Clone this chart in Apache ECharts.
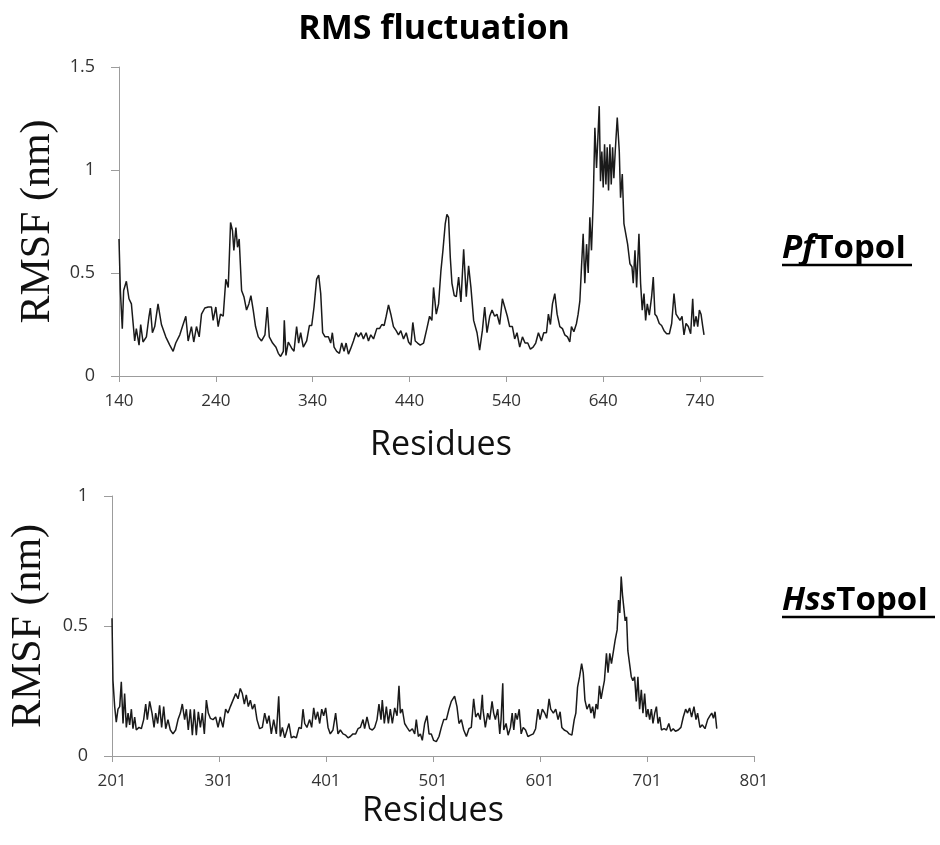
<!DOCTYPE html>
<html>
<head>
<meta charset="utf-8">
<title>RMS fluctuation</title>
<script src="https://cdn.jsdelivr.net/npm/echarts@6/dist/echarts.min.js"></script>
<style>
  html, body { margin: 0; padding: 0; background: #fff; }
  #chart { width: 940px; height: 845px; }
</style>
</head>
<body>
<div id="chart"></div>
<script>
// PfTopoI residues / RMSF (nm)
const pfResidue = [140.0,141.4,143.4,144.8,147.6,150.3,152.8,156.2,157.9,160.7,162.4,164.8,168.3,171.0,172.4,174.5,176.9,180.3,183.8,188.3,192.4,195.9,198.6,202.8,205.5,209.0,211.4,214.8,217.2,220.0,222.8,225.2,228.6,232.1,235.5,237.2,240.0,242.4,244.8,247.6,250.3,252.8,255.2,257.2,258.6,260.7,262.4,264.1,266.6,269.0,271.7,274.1,276.2,278.6,281.0,283.8,287.2,290.7,293.1,295.2,298.6,302.1,304.5,306.9,309.7,310.7,312.4,314.8,318.3,320.7,323.4,325.5,327.6,330.3,333.8,336.6,339.0,341.4,344.1,346.2,348.3,350.3,352.8,356.2,358.6,360.3,362.1,364.8,367.6,370.0,372.4,374.5,376.9,379.3,382.1,384.8,387.2,390.0,392.4,395.2,397.6,400.0,402.8,406.2,409.0,411.4,413.8,415.9,418.3,420.7,423.4,426.2,428.6,431.0,433.8,436.6,439.0,441.4,443.4,445.9,448.3,451.0,454.5,457.9,460.7,463.1,464.8,467.6,470.0,472.4,474.5,476.9,478.6,480.3,482.1,483.8,486.2,488.3,490.7,493.1,495.9,498.6,501.0,503.4,506.2,509.7,512.4,
  515.2,517.6,520.0,522.8,525.2,527.9,530.3,533.1,535.9,538.3,541.0,543.4,546.2,548.6,551.0,553.8,556.6,559.3,562.1,564.8,567.6,570.3,573.1,576.2,578.6,581.4,583.4,585.5,587.6,590.0,592.4,595.2,597.9,600.3,603.1,605.5,607.2,609.7,612.4,614.1,615.9,617.6,619.3,621.0,622.8,624.5,626.2,627.9,629.7,631.4,633.1,634.5,635.9,637.2,638.6,640.0,641.4,642.8,644.1,645.5,646.9,648.3,649.7,651.0,652.4,654.5,656.6,657.9,659.7,661.4,663.4,665.2,667.6,669.7,671.0,672.8,674.5,676.9,678.6,680.3,682.1,683.8,685.5,687.6,690.0,691.7,693.4,695.2,697.9,700.3,702.8,705.5,708.3,710.7,713.1,715.2,717.2,719.3,721.4,723.4,725.5,727.9,730.3,732.4,733.8,735.9,737.6,739.3,741.0,742.8,744.1]
const pfRmsf = [0.665,0.415,0.23,0.415,0.46,0.375,0.35,0.17,0.23,0.15,0.25,0.165,0.19,0.29,0.33,0.21,0.24,0.35,0.25,0.19,0.15,0.12,0.16,0.2,0.24,0.29,0.17,0.24,0.165,0.24,0.19,0.3,0.33,0.335,0.335,0.27,0.335,0.24,0.3,0.29,0.47,0.43,0.745,0.705,0.61,0.72,0.625,0.665,0.415,0.385,0.32,0.35,0.39,0.32,0.24,0.19,0.17,0.2,0.335,0.19,0.16,0.14,0.11,0.095,0.12,0.27,0.1,0.165,0.135,0.12,0.24,0.16,0.21,0.14,0.17,0.245,0.245,0.335,0.47,0.49,0.4,0.21,0.19,0.19,0.16,0.21,0.14,0.12,0.11,0.16,0.12,0.16,0.106,0.134,0.17,0.21,0.19,0.21,0.18,0.21,0.17,0.2,0.18,0.23,0.23,0.25,0.245,0.29,0.345,0.3,0.24,0.22,0.2,0.22,0.18,0.21,0.165,0.15,0.26,0.17,0.16,0.15,0.16,0.23,0.29,0.27,0.43,0.3,0.35,0.51,0.61,0.74,0.785,0.77,0.575,0.45,0.39,0.385,0.48,0.36,0.615,0.385,0.535,0.43,0.27,0.21,0.125,
  0.22,0.335,0.21,0.29,0.32,0.29,0.3,0.25,0.375,0.335,0.29,0.24,0.24,0.18,0.21,0.14,0.19,0.16,0.16,0.13,0.14,0.16,0.21,0.17,0.21,0.21,0.3,0.25,0.35,0.4,0.3,0.24,0.23,0.2,0.19,0.165,0.24,0.215,0.255,0.3,0.365,0.53,0.69,0.45,0.64,0.5,0.77,0.61,0.85,1.205,1.01,1.155,1.31,0.945,1.09,0.915,1.125,0.93,1.11,0.9,1.125,0.93,1.11,0.96,1.09,1.255,1.09,0.865,0.98,0.74,0.745,0.64,0.545,0.53,0.45,0.61,0.43,0.69,0.45,0.32,0.4,0.27,0.35,0.295,0.385,0.48,0.3,0.29,0.255,0.245,0.22,0.205,0.205,0.255,0.4,0.3,0.3,0.27,0.29,0.2,0.255,0.24,0.205,0.375,0.24,0.29,0.24,0.32,0.3,0.24,0.2]

// HssTopoI residues / RMSF (nm), lower panel
const hsResidue = [201.0,201.9,203.5,205.0,206.6,208.2,209.7,211.3,212.8,214.4,216.0,217.5,219.1,220.6,222.2,223.7,226.2,228.4,230.6,232.5,234.0,236.2,238.4,240.3,241.8,243.7,245.5,247.4,249.3,251.2,253.3,255.5,258.0,260.5,262.7,264.9,266.7,268.9,270.5,272.3,274.2,276.1,277.9,279.8,281.7,283.6,285.4,287.3,289.2,291.0,292.9,295.4,297.9,300.1,302.2,304.7,307.2,309.4,311.6,314.1,316.6,318.8,320.9,322.8,324.7,326.5,328.4,330.3,332.2,334.3,336.5,339.0,341.5,343.7,345.9,347.7,349.9,352.1,354.6,356.8,358.3,360.2,362.4,364.6,366.4,368.6,370.8,373.3,375.8,377.9,379.5,381.1,383.2,385.7,387.6,389.5,391.3,393.2,395.1,397.0,398.8,400.7,402.9,405.0,407.5,410.0,412.2,414.4,416.9,419.4,421.6,423.7,426.2,428.7,430.9,433.1,435.6,437.1,439.3,441.8,444.3,446.5,448.7,450.5,452.4,453.6,455.5,457.4,459.3,461.1,463.0,465.2,467.4,469.2,470.5,472.3,474.5,476.7,479.2,481.7,483.9,485.4,487.3,489.2,491.0,493.2,495.4,497.3,499.4,501.6,504.1,506.6,508.8,511.0,513.5,515.9,518.1,521.2,523.4,525.3,527.5,529.7,532.2,534.6,536.8,539.0,540.9,543.1,545.2,547.1,
  547.7,549.9,552.1,554.0,556.2,557.7,559.3,561.5,563.4,564.6,566.2,567.1,569.3,571.2,573.4,575.0,576.5,578.1,579.7,581.6,583.4,585.3,587.5,589.7,592.2,594.7,596.9,599.1,601.0,603.2,605.4,607.3,609.5,611.0,613.5,615.7,617.9,619.8,621.4,623.6,626.1,628.3,630.8,633.0,634.5,636.1,638.0,639.9,641.4,643.0,644.9,647.1,648.6,650.2,651.8,653.4,654.9,656.5,658.1,659.6,661.2,663.1,664.6,666.2,667.8,669.3,671.2,673.1,674.4,675.6,676.9,678.1,679.4,680.6,681.9,683.1,684.7,686.3,687.8,689.4,691.0,692.5,694.1,695.7,697.2,698.8,700.4,701.9,703.5,705.1,706.6,708.2,709.8,711.3,712.9,714.5,717.0,719.2,721.4,723.3,725.5,727.6,730.2,732.7,734.9,737.1,738.9,740.8,742.7,744.9,746.8,748.3,750.5,752.7,755.2,757.7,759.9,761.5,763.1,764.6,766.2]
const hsRmsf = [0.53,0.29,0.19,0.13,0.18,0.19,0.285,0.125,0.24,0.11,0.165,0.12,0.18,0.105,0.15,0.1,0.11,0.105,0.14,0.2,0.14,0.21,0.165,0.11,0.165,0.125,0.195,0.11,0.19,0.105,0.14,0.1,0.085,0.1,0.14,0.165,0.2,0.14,0.18,0.1,0.18,0.08,0.18,0.08,0.17,0.11,0.165,0.085,0.215,0.165,0.145,0.14,0.15,0.11,0.15,0.11,0.18,0.165,0.19,0.215,0.24,0.22,0.26,0.24,0.2,0.235,0.19,0.215,0.18,0.2,0.14,0.105,0.11,0.165,0.125,0.155,0.085,0.14,0.085,0.23,0.075,0.11,0.07,0.1,0.125,0.07,0.075,0.07,0.11,0.105,0.18,0.125,0.11,0.14,0.11,0.185,0.14,0.17,0.125,0.18,0.155,0.185,0.11,0.085,0.1,0.165,0.085,0.1,0.085,0.08,0.07,0.075,0.085,0.085,0.105,0.11,0.14,0.105,0.15,0.105,0.1,0.11,0.14,0.2,0.14,0.215,0.125,0.19,0.125,0.18,0.125,0.185,0.155,0.27,0.165,0.18,0.125,0.11,0.095,0.105,0.085,0.14,0.075,0.085,0.06,0.125,0.155,0.085,0.085,0.06,0.055,0.075,0.11,0.14,0.14,0.18,0.21,0.23,0.19,0.125,0.14,0.1,0.075,0.105,0.11,0.22,0.15,0.165,0.14,0.235,
  0.18,0.11,0.165,0.14,0.21,0.165,0.14,0.18,0.085,0.14,0.28,0.1,0.125,0.08,0.11,0.165,0.1,0.165,0.14,0.18,0.085,0.11,0.1,0.075,0.08,0.085,0.105,0.18,0.14,0.18,0.165,0.145,0.22,0.18,0.165,0.18,0.14,0.17,0.11,0.1,0.095,0.085,0.08,0.14,0.165,0.265,0.305,0.355,0.32,0.215,0.18,0.2,0.165,0.19,0.145,0.2,0.18,0.27,0.22,0.255,0.29,0.395,0.32,0.395,0.355,0.395,0.445,0.485,0.6,0.55,0.69,0.62,0.62,0.52,0.535,0.405,0.355,0.305,0.29,0.305,0.21,0.305,0.18,0.255,0.165,0.24,0.15,0.18,0.14,0.18,0.125,0.165,0.19,0.125,0.15,0.1,0.105,0.1,0.125,0.095,0.105,0.095,0.1,0.11,0.15,0.18,0.165,0.185,0.15,0.19,0.14,0.165,0.11,0.12,0.105,0.14,0.155,0.165,0.145,0.17,0.105]

const pfTicks = [140, 240, 340, 440, 540, 640, 740]
const hsTicks = [201, 301, 401, 501, 601, 701, 801]

const AXIS_GREY = '#9c9c9c'
const SANS = '"Open Sans", "DejaVu Sans", sans-serif'
const SERIF = '"Liberation Serif", "DejaVu Serif", serif'

function zip(xs, ys) {
  return xs.map((x, i) => [x, ys[i]])
}

// shared look of both panels
function xAxisFor(gridIndex, min, max, ticks, nameGap) {
  return {
    type: 'value',
    gridIndex: gridIndex,
    min: min,
    max: max,
    axisLine: { lineStyle: { color: AXIS_GREY, width: 1 } },
    axisTick: { customValues: ticks, length: 6, lineStyle: { color: AXIS_GREY } },
    axisLabel: { customValues: ticks, fontSize: 17, color: '#333', margin: 17, fontFamily: SANS },
    splitLine: { show: false },
    name: 'Residues',
    nameLocation: 'middle',
    nameGap: nameGap,
    nameTextStyle: { fontSize: 34, color: '#111', fontFamily: SANS }
  }
}

function yAxisFor(gridIndex, max, nameGap) {
  return {
    type: 'value',
    gridIndex: gridIndex,
    min: 0,
    max: max,
    interval: 0.5,
    axisLine: { show: true, lineStyle: { color: AXIS_GREY, width: 1 } },
    axisTick: { show: true, length: 8, lineStyle: { color: AXIS_GREY } },
    axisLabel: { fontSize: 18, color: '#333', margin: 24, fontFamily: SANS },
    splitLine: { show: false },
    name: 'RMSF (nm)',
    nameLocation: 'middle',
    nameRotate: 90,
    nameGap: nameGap,
    nameTextStyle: { fontSize: 42, color: '#111', fontFamily: SERIF }
  }
}

function labelWithUnderline(x, y, italicPart, plainPart, lineEnd) {
  return {
    type: 'group',
    children: [
      {
        type: 'text',
        x: x,
        y: y,
        style: {
          text: '{i|' + italicPart + '}{n|' + plainPart + '}',
          verticalAlign: 'middle',
          rich: {
            i: { fontSize: 33, fontWeight: 'bold', fontStyle: 'italic', fontFamily: SANS, fill: '#000' },
            n: { fontSize: 33, fontWeight: 'bold', fontFamily: SANS, fill: '#000' }
          }
        }
      },
      {
        type: 'line',
        shape: { x1: x, y1: y + 16, x2: lineEnd, y2: y + 16 },
        style: { stroke: '#000', lineWidth: 2.5 }
      }
    ]
  }
}

const chart = echarts.init(document.getElementById('chart'), null, { renderer: 'canvas' })

const option = {
  backgroundColor: '#fff',
  animation: false,
  grid: [
    { left: 119, right: 177, top: 67, bottom: 469 },
    { left: 109, right: 186, top: 496, bottom: 89 }
  ],
  xAxis: [
    xAxisFor(0, 140, 805, pfTicks, 52),
    xAxisFor(1, 201, 801, hsTicks, 38)
  ],
  yAxis: [
    yAxisFor(0, 1.5, 59),
    yAxisFor(1, 1, 62)
  ],
  series: [
    {
      name: 'PfTopoI',
      type: 'line',
      xAxisIndex: 0,
      yAxisIndex: 0,
      showSymbol: false,
      lineStyle: { color: '#1a1a1a', width: 1.5 },
      data: zip(pfResidue, pfRmsf)
    },
    {
      name: 'HssTopoI',
      type: 'line',
      xAxisIndex: 1,
      yAxisIndex: 1,
      showSymbol: false,
      lineStyle: { color: '#1a1a1a', width: 1.5 },
      data: zip(hsResidue, hsRmsf)
    }
  ],
  graphic: [
    {
      type: 'text',
      x: 434,
      y: 29,
      style: {
        text: 'RMS fluctuation',
        align: 'center',
        verticalAlign: 'middle',
        fontSize: 34,
        fontWeight: 'bold',
        fontFamily: SANS,
        fill: '#000'
      }
    },
    labelWithUnderline(782, 249, 'Pf', 'TopoI', 912),
    labelWithUnderline(782, 601, 'Hss', 'TopoI', 935)
  ]
}

chart.setOption(option)
</script>
</body>
</html>
